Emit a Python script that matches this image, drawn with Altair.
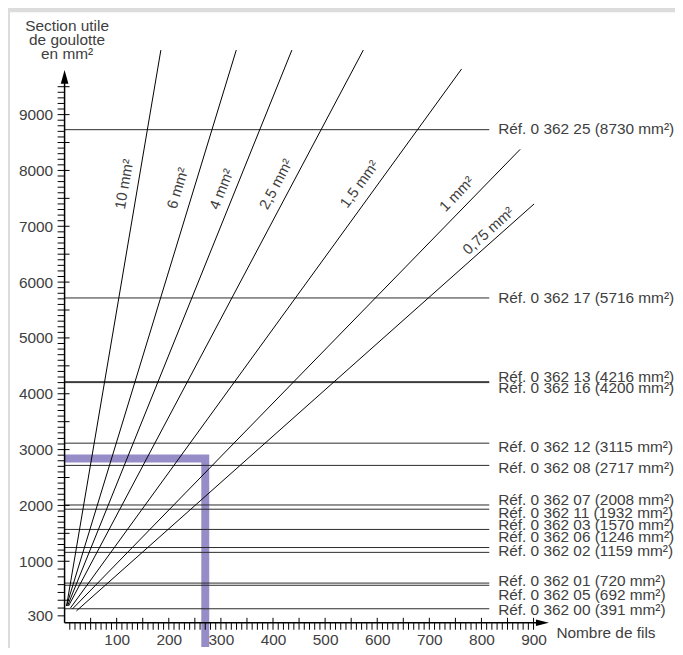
import altair as alt
import pandas as pd

# ---------------- data ----------------
y_tick_labels = [300, 1000, 2000, 3000, 4000, 5000, 6000, 7000, 8000, 9000]
x_tick_labels = [100, 200, 300, 400, 500, 600, 700, 800, 900]

ref_names = ["0 362 25", "0 362 17", "0 362 13", "0 362 16", "0 362 12", "0 362 08",
             "0 362 07", "0 362 11", "0 362 03", "0 362 06", "0 362 02", "0 362 01",
             "0 362 05", "0 362 00"]
ref_sections = [8730, 5716, 4216, 4200, 3115, 2717, 2008, 1932, 1570, 1246, 1159, 720, 692, 391]
ref_label_at = [8733, 5711, 4307, 4111, 3044, 2671, 2102, 1871, 1640, 1427, 1178, 745, 567, 376]

wire_labels = ["10 mm²", "6 mm²", "4 mm²", "2,5 mm²", "1,5 mm²", "1 mm²", "0,75 mm²"]
wire_start_n = [3.8, 3.8, 5.7, 7.6, 11.4, 15.2, 22.9]
wire_start_s = [427, 427, 427, 427, 402, 389, 364]
wire_end_n = [184.8, 329.5, 436.2, 573.3, 761.9, 874.3, 901]
wire_end_s = [10156, 10156, 10156, 10156, 9818, 8378, 7400]
wire_label_n = [114.3, 217, 301, 405.7, 565.7, 752.4, 813.3]
wire_label_s = [7756, 7684, 7667, 7756, 7756, 7578, 6920]
wire_label_angle = [280, 287, 292, 298, 306, 314, 318]

example_n = [0, 270, 270]
example_s = [2840, 2840, -100]

y_minor_ticks = list(range(300, 9600, 100))
y_major_ticks = list(range(500, 10000, 500))
x_minor_ticks = list(range(10, 910, 10))
x_major_ticks = list(range(50, 950, 50))

# ---------------- layout constants ----------------
FONT = "Liberation Sans"
TXT = "#404040"
W, H = 483, 585
ref_line_end = 815
ref_label_x = 832
y_axis_bottom = 211
y_axis_top = 9676
x_axis_end = 917

xscale = alt.Scale(domain=[0, 920], nice=False, zero=False)
yscale = alt.Scale(domain=[211, 1000, 10298], range=[H, 523, 0], nice=False, zero=False)

xaxis = alt.Axis(
    values=x_tick_labels, format="d", domain=False, ticks=False, grid=False,
    labelFlush=False, labelPadding=10, labelFont=FONT, labelFontSize=15.5,
    labelColor=TXT, zindex=1,
    title="Nombre de fils", titleX=495, titleY=10, titleAlign="left",
    titleBaseline="middle", titleFont=FONT, titleFontSize=15.5,
    titleFontWeight="normal", titleColor=TXT)
yaxis = alt.Axis(
    values=y_tick_labels, format="d", domain=False, ticks=False, grid=False,
    labelFlush=False, labelPadding=12, labelFont=FONT, labelFontSize=15.5,
    labelColor=TXT, zindex=1,
    title=["Section utile", "de goulotte", "en mm²"], titleAngle=0,
    titleX=2, titleY=-24, titleAlign="center", titleBaseline="top",
    titleFont=FONT, titleFontSize=15.5, titleFontWeight="normal",
    titleColor=TXT, titleLineHeight=14)


def X(field):
    return alt.X(field, type="quantitative", scale=xscale, axis=xaxis)


def Y(field):
    return alt.Y(field, type="quantitative", scale=yscale, axis=yaxis)


def XD(v):
    return alt.datum(v, type="quantitative", scale=xscale, axis=xaxis)


def YD(v):
    return alt.datum(v, type="quantitative", scale=yscale, axis=yaxis)


one = alt.Data(values=[{"a": 1}])

# background panel
bg = alt.Chart(one).mark_rect(color="white").encode(
    x=alt.value(-55), x2=alt.value(620), y=alt.value(-30), y2=alt.value(620)
)

# example path (purple)
ex_df = pd.DataFrame({"n": example_n, "s": example_s, "o": [0, 1, 2]})
example = alt.Chart(ex_df).mark_line(
    color="#968dc8", strokeWidth=8, strokeJoin="miter", strokeCap="butt"
).encode(x=X("n"), y=Y("s"), order="o:O")

# reference horizontal lines
ref_df = pd.DataFrame({
    "s": ref_sections,
    "x0": [0] * len(ref_sections),
    "x1": [ref_line_end] * len(ref_sections),
})
ref_lines = alt.Chart(ref_df).mark_rule(color="#2a2a2a", strokeWidth=1).encode(
    x=X("x0"), x2="x1:Q", y=Y("s")
)

ref_txt_df = pd.DataFrame({
    "s": ref_label_at,
    "x": [ref_label_x] * len(ref_names),
    "t": [f"Réf. {n} ({s} mm²)" for n, s in zip(ref_names, ref_sections)],
})
ref_text = alt.Chart(ref_txt_df).mark_text(
    align="left", baseline="middle", font=FONT, fontSize=15.5, color=TXT
).encode(x=X("x"), y=Y("s"), text="t:N")

# wire section lines
rows = []
for i, lab in enumerate(wire_labels):
    rows.append({"wire": lab, "n": wire_start_n[i], "s": wire_start_s[i], "o": 0})
    rows.append({"wire": lab, "n": wire_end_n[i], "s": wire_end_s[i], "o": 1})
wire_df = pd.DataFrame(rows)
wires = alt.Chart(wire_df).mark_line(color="black", strokeWidth=1).encode(
    x=X("n"), y=Y("s"), detail="wire:N", order="o:O"
)

wl_df = pd.DataFrame({"n": wire_label_n, "s": wire_label_s, "t": wire_labels,
                      "a": wire_label_angle})
wire_text = alt.Chart(wl_df).mark_text(
    align="center", baseline="middle", font=FONT, fontSize=15, color=TXT
).encode(x=X("n"), y=Y("s"), text="t:N", angle=alt.Angle("a:Q", scale=None))

# axis lines and arrows
yax = alt.Chart(one).mark_rule(color="black", strokeWidth=1.5).encode(
    x=XD(0), y=YD(y_axis_bottom), y2=alt.datum(y_axis_top)
)
xax = alt.Chart(one).mark_rule(color="black", strokeWidth=1.5).encode(
    x=XD(0), x2=alt.datum(x_axis_end), y=YD(y_axis_bottom)
)
yarrow = alt.Chart(one).mark_point(
    shape="M0,-1L0.55,1L-0.55,1Z", size=196, filled=True, color="black", opacity=1
).encode(x=XD(0), y=YD(y_axis_top))
xarrow = alt.Chart(one).mark_point(
    shape="M1,0L-1,0.5L-1,-0.5Z", size=169, filled=True, color="black", opacity=1
).encode(x=XD(x_axis_end), y=YD(y_axis_bottom))

# ticks
ymin_df = pd.DataFrame({"s": y_minor_ticks})
ytick_minor = alt.Chart(ymin_df).mark_rule(color="black", strokeWidth=1).encode(
    x=alt.value(-7), x2=alt.value(0), y=Y("s")
)
ymaj_df = pd.DataFrame({"s": y_major_ticks})
ytick_major = alt.Chart(ymaj_df).mark_rule(color="black", strokeWidth=1).encode(
    x=alt.value(0), x2=alt.value(5), y=Y("s")
)
xmin_df = pd.DataFrame({"n": x_minor_ticks})
xtick_minor = alt.Chart(xmin_df).mark_rule(color="black", strokeWidth=1).encode(
    x=X("n"), y=alt.value(H), y2=alt.value(H + 7)
)
xmaj_df = pd.DataFrame({"n": x_major_ticks})
xtick_major = alt.Chart(xmaj_df).mark_rule(color="black", strokeWidth=1).encode(
    x=X("n"), y=alt.value(H - 5), y2=alt.value(H)
)

chart = alt.layer(
    bg, example, ref_lines, ref_text, wires, wire_text,
    ytick_minor, ytick_major, xtick_minor, xtick_major,
    yax, xax, yarrow, xarrow
).properties(
    width=W, height=H,
    padding={"left": 57, "top": 32, "right": 132, "bottom": 23},
    autosize=alt.AutoSizeParams(type="none"),
    background="#dcdcdc",
).configure_view(stroke=None)

chart.save("out.html", embed_options={"renderer": "svg", "actions": False})
